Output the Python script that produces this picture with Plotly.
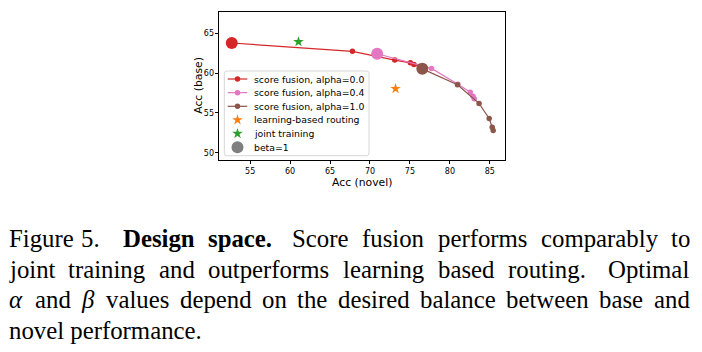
import plotly.graph_objects as go

# ---------------- data ----------------
red_x = [52.7, 67.8, 73.1, 75.05, 75.5, 76.2]        # score fusion, alpha=0.0
red_y = [63.8, 62.75, 61.65, 61.3, 61.1, 60.85]
pink_x = [70.9, 77.7, 81.0, 82.55, 82.9, 83.05]       # score fusion, alpha=0.4
pink_y = [62.45, 60.6, 58.6, 57.6, 57.1, 56.8]
brown_x = [76.55, 80.95, 83.65, 84.92, 85.3, 85.42]   # score fusion, alpha=1.0
brown_y = [60.55, 58.55, 56.2, 54.3, 53.2, 52.8]
routing_x = [73.2]                                    # learning-based routing
routing_y = [58.05]
joint_x = [61.05]                                     # joint training
joint_y = [63.95]

x_ticks = [55, 60, 65, 70, 75, 80, 85]
y_ticks = [50, 55, 60, 65]
x_range = [51.1, 86.9]
y_range = [49.08, 67.7]

legend_labels = ["score fusion, alpha=0.0", "score fusion, alpha=0.4",
                 "score fusion, alpha=1.0", "learning-based routing",
                 "joint training", "beta=1"]

caption_line1 = ["Figure", "5.", "<b>Design</b>", "<b>space.</b>", "Score", "fusion",
                 "performs", "comparably", "to"]
caption_line2 = ["joint", "training", "and", "outperforms", "learning", "based",
                 "routing.", "Optimal"]
caption_line3 = ["<i>α</i>", "and", "<i>β</i>", "values", "depend", "on", "the",
                 "desired", "balance", "between", "base", "and"]
caption_line4 = ["novel performance."]

# ---------------- layout / style ----------------
W, H = 702, 352
ML, MR, MT, MB = 219, 197, 12, 192
PW = W - ML - MR
PH = H - MT - MB

RED, PINK, BROWN = "#d62728", "#e377c2", "#8c564b"
ORANGE, GREEN, GRAY = "#ff7f0e", "#2ca02c", "#7f7f7f"
SANS = "DejaVu Sans"
SERIF = "Liberation Serif"

# justified caption word start positions (pixels)
cap_pos1 = [9.3, 81.7, 123.3, 208.4, 292.7, 362.7, 438.2, 541.2, 671.8]
cap_pos2 = [9.3, 68.4, 159.2, 208.6, 343.4, 438.3, 508.4, 608.8]
cap_pos3 = [9.3, 35.6, 81.9, 106.3, 180.2, 262.2, 297.5, 338.2, 420.3, 506.4, 599.5, 654.0]
cap_pos4 = [9.3]
cap_baselines = [247.0, 277.5, 308.0, 338.5]
CAP_FS = 24.8


def px_x(px):
    return (px - ML) / PW


def px_y(py):
    return (H - MB - py) / PH


fig = go.Figure()

small = 5.5
big = 12
lw = 1.2
series = [(red_x, red_y, RED), (pink_x, pink_y, PINK), (brown_x, brown_y, BROWN)]
for xs, ys, c in series:
    fig.add_trace(go.Scatter(x=xs, y=ys, mode="lines+markers",
                             line=dict(color=c, width=lw),
                             marker=dict(color=c, size=small), showlegend=False))

# beta=1 points (first point of each series)
fig.add_trace(go.Scatter(x=[s[0][0] for s in series], y=[s[1][0] for s in series],
                         mode="markers",
                         marker=dict(color=[s[2] for s in series], size=big),
                         showlegend=False))
fig.add_trace(go.Scatter(x=routing_x, y=routing_y, mode="markers",
                         marker=dict(symbol="star", color=ORANGE, size=8),
                         showlegend=False))
fig.add_trace(go.Scatter(x=joint_x, y=joint_y, mode="markers",
                         marker=dict(symbol="star", color=GREEN, size=8),
                         showlegend=False))

# ---------------- custom compact legend (pixel overlay axes) ----------------
LX0, LX1, LY0, LY1, R = 224.3, 369.0, 71.0, 155.7, 2.5
row0, row_step = 79.0, 13.65
key_l, key_r, key_c, text_x = 227.7, 247.3, 237.5, 254.0
key_styles = [
    dict(line=RED, marker=dict(color=RED, size=small)),
    dict(line=PINK, marker=dict(color=PINK, size=small)),
    dict(line=BROWN, marker=dict(color=BROWN, size=small)),
    dict(line=None, marker=dict(color=ORANGE, size=8, symbol="star")),
    dict(line=None, marker=dict(color=GREEN, size=8, symbol="star")),
    dict(line=None, marker=dict(color=GRAY, size=big)),
]
annotations = []
for i, (lab, st) in enumerate(zip(legend_labels, key_styles)):
    ry = row0 + i * row_step
    if st["line"]:
        fig.add_trace(go.Scatter(x=[key_l, key_r], y=[ry, ry], mode="lines",
                                 line=dict(color=st["line"], width=lw),
                                 xaxis="x2", yaxis="y2", showlegend=False,
                                 hoverinfo="skip"))
    fig.add_trace(go.Scatter(x=[key_c], y=[ry], mode="markers", marker=st["marker"],
                             xaxis="x2", yaxis="y2", showlegend=False,
                             hoverinfo="skip"))
    annotations.append(dict(x=text_x, y=ry, xref="x2", yref="y2", text=lab,
                            showarrow=False, xanchor="left", yanchor="middle",
                            borderpad=0, borderwidth=0,
                            font=dict(family=SANS, size=9.3, color="black")))

box_path = (f"M{LX0+R},{LY0} L{LX1-R},{LY0} Q{LX1},{LY0} {LX1},{LY0+R} "
            f"L{LX1},{LY1-R} Q{LX1},{LY1} {LX1-R},{LY1} L{LX0+R},{LY1} "
            f"Q{LX0},{LY1} {LX0},{LY1-R} L{LX0},{LY0+R} Q{LX0},{LY0} {LX0+R},{LY0} Z")
shapes = [dict(type="path", path=box_path, xref="x2", yref="y2", layer="below",
               line=dict(color="#cccccc", width=0.8),
               fillcolor="rgba(255,255,255,0.8)")]

# axis titles
annotations.append(dict(x=px_x(362), y=px_y(182.5), xref="paper", yref="paper",
                        text="Acc (novel)", showarrow=False, xanchor="center",
                        yanchor="middle", borderpad=0, borderwidth=0,
                        font=dict(family=SANS, size=10.8, color="black")))
annotations.append(dict(x=px_x(198.3), y=px_y(85.5), xref="paper", yref="paper",
                        text="Acc (base)", showarrow=False, textangle=-90,
                        xanchor="center", yanchor="middle", borderpad=0, borderwidth=0,
                        font=dict(family=SANS, size=10.8, color="black")))

# caption
for words, poss, base in zip([caption_line1, caption_line2, caption_line3, caption_line4],
                             [cap_pos1, cap_pos2, cap_pos3, cap_pos4], cap_baselines):
    yc = base - 0.3375 * CAP_FS
    for w, p in zip(words, poss):
        annotations.append(dict(x=px_x(p - 0.5), y=px_y(yc), xref="paper", yref="paper",
                                text=w, showarrow=False, xanchor="left",
                                yanchor="middle", borderpad=0, borderwidth=0,
                                font=dict(family=SERIF, size=CAP_FS, color="black")))

axis_common = dict(ticks="outside", ticklen=3.5, tickwidth=0.8, tickcolor="black",
                   showline=True, linecolor="black", linewidth=0.8, mirror=True,
                   showgrid=False, zeroline=False,
                   tickfont=dict(family=SANS, size=8, color="black"))

fig.update_layout(
    width=W, height=H, autosize=False,
    margin=dict(l=ML, r=MR, t=MT, b=MB, pad=0),
    paper_bgcolor="white", plot_bgcolor="white",
    showlegend=False,
    xaxis=dict(range=x_range, tickvals=x_ticks, **axis_common),
    yaxis=dict(range=y_range, tickvals=y_ticks, ticklabelstandoff=-1, **axis_common),
    xaxis2=dict(range=[ML, W - MR], overlaying="x", anchor="y2", visible=False,
                fixedrange=True),
    yaxis2=dict(range=[H - MB, MT], overlaying="y", anchor="x2", visible=False,
                fixedrange=True),
    shapes=shapes,
    annotations=annotations,
)

fig.write_html("out.html")
